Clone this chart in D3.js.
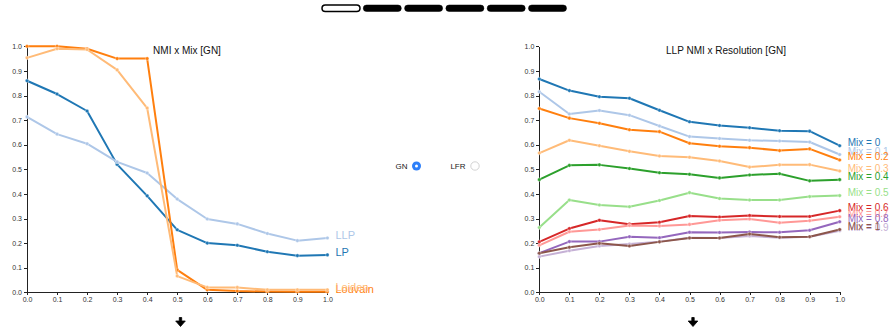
<!DOCTYPE html>
<html>
<head>
<meta charset="utf-8">
<script src="https://cdn.jsdelivr.net/npm/d3@7/dist/d3.min.js"></script>
<style>
  html, body { margin: 0; padding: 0; background: #fff; }
  svg { display: block; font-family: "Liberation Sans", Arial, Helvetica, sans-serif; }
  .axis path, .axis line { stroke: #222; shape-rendering: crispEdges; }
  .axis text { font-size: 7px; fill: #333; }
</style>
</head>
<body>
<svg id="chart" width="889" height="329"></svg>
<script>
// ---- Mixing parameter steps (x of the left chart) ----
const mixSteps = [0, 0.1, 0.2, 0.3, 0.4, 0.5, 0.6, 0.7, 0.8, 0.9, 1.0];

// NMI per algorithm across mixing values (GN benchmark)
const nmiLP      = [0.86, 0.806, 0.737, 0.52, 0.392, 0.254, 0.20, 0.191, 0.165, 0.149, 0.152];
const nmiLLP     = [0.713, 0.643, 0.604, 0.53, 0.485, 0.379, 0.298, 0.278, 0.239, 0.21, 0.221];
const nmiLouvain = [1.0, 1.0, 0.99, 0.95, 0.95, 0.091, 0.01, 0.005, 0.003, 0.002, 0.002];
const nmiLeiden  = [0.953, 0.99, 0.987, 0.904, 0.749, 0.066, 0.02, 0.02, 0.01, 0.01, 0.01];

const algoNames  = ["LP", "LLP", "Louvain", "Leiden"];
const algoColors = ["#1f77b4", "#aec7e8", "#ff7f0e", "#ffbb78"];

// ---- Resolution steps (x of the right chart) ----
const resolutionSteps = [0, 0.1, 0.2, 0.3, 0.4, 0.5, 0.6, 0.7, 0.8, 0.9, 1.0];

// LLP NMI per resolution, one array per mixing value
const llpMix00 = [0.867, 0.82, 0.795, 0.789, 0.74, 0.693, 0.678, 0.669, 0.657, 0.655, 0.596];
const llpMix01 = [0.815, 0.725, 0.739, 0.72, 0.676, 0.633, 0.625, 0.618, 0.615, 0.611, 0.56];
const llpMix02 = [0.747, 0.708, 0.687, 0.661, 0.653, 0.606, 0.594, 0.588, 0.576, 0.583, 0.538];
const llpMix03 = [0.566, 0.618, 0.596, 0.573, 0.554, 0.549, 0.534, 0.509, 0.518, 0.519, 0.493];
const llpMix04 = [0.458, 0.516, 0.518, 0.503, 0.486, 0.48, 0.465, 0.477, 0.482, 0.453, 0.458];
const llpMix05 = [0.263, 0.375, 0.355, 0.348, 0.373, 0.405, 0.381, 0.375, 0.375, 0.389, 0.393];
const llpMix06 = [0.205, 0.259, 0.293, 0.277, 0.285, 0.31, 0.306, 0.312, 0.308, 0.308, 0.332];
const llpMix07 = [0.191, 0.246, 0.255, 0.272, 0.27, 0.276, 0.293, 0.298, 0.283, 0.291, 0.307];
const llpMix08 = [0.159, 0.206, 0.206, 0.226, 0.222, 0.244, 0.243, 0.245, 0.244, 0.252, 0.287];
const llpMix09 = [0.145, 0.169, 0.188, 0.196, 0.206, 0.222, 0.221, 0.229, 0.222, 0.226, 0.25];
const llpMix10 = [0.159, 0.183, 0.199, 0.188, 0.205, 0.221, 0.221, 0.237, 0.224, 0.226, 0.255];

const mixLabels = ["Mix = 0", "Mix = 0.1", "Mix = 0.2", "Mix = 0.3", "Mix = 0.4", "Mix = 0.5",
                   "Mix = 0.6", "Mix = 0.7", "Mix = 0.8", "Mix = 0.9", "Mix = 1"];
const mixColors = ["#1f77b4", "#aec7e8", "#ff7f0e", "#ffbb78", "#2ca02c", "#98df8a",
                   "#d62728", "#ff9896", "#9467bd", "#c5b0d5", "#8c564b"];

const yTicks = [0, 0.1, 0.2, 0.3, 0.4, 0.5, 0.6, 0.7, 0.8, 0.9, 1.0];

const svg = d3.select("#chart");

// ---- Benchmark selector (pills) ----
const pills = [0, 1, 2, 3, 4, 5];
svg.append("g").selectAll("rect").data(pills).join("rect")
  .attr("x", d => 322 + d * 41.3)
  .attr("y", 5)
  .attr("width", 38)
  .attr("height", 6.5)
  .attr("rx", 3.3)
  .attr("fill", d => d === 0 ? "#fff" : "#000")
  .attr("stroke", "#000")
  .attr("stroke-width", d => d === 0 ? 1.5 : 0.5);

// ---- Generic line panel ----
function panel(opts) {
  const x = d3.scaleLinear().domain([0, 1]).range([opts.x0, opts.x0 + 300.4]);
  const y = d3.scaleLinear().domain([0, 1]).range([292.3, 46.3]);
  const g = svg.append("g");

  g.append("g").attr("class", "axis")
    .attr("transform", `translate(0,${y(0)})`)
    .call(d3.axisBottom(x).tickValues(opts.xValues).tickFormat(d3.format(".1f")).tickSize(3).tickSizeOuter(0).tickPadding(2));
  g.append("g").attr("class", "axis")
    .attr("transform", `translate(${x(0)},0)`)
    .call(d3.axisLeft(y).tickValues(yTicks).tickFormat(d3.format(".1f")).tickSize(3).tickSizeOuter(0).tickPadding(2));

  g.append("text")
    .attr("x", opts.titleX).attr("y", 54)
    .attr("text-anchor", "middle")
    .attr("font-size", 10).attr("fill", "#111")
    .text(opts.title);

  const line = d3.line().x((d, i) => x(opts.xValues[i])).y(d => y(d));

  opts.series.forEach((vals, k) => {
    const s = g.append("g");
    s.append("path")
      .attr("d", line(vals))
      .attr("fill", "none")
      .attr("stroke", opts.colors[k])
      .attr("stroke-width", 2)
      .attr("stroke-linejoin", "round");
    s.selectAll("circle").data(vals).join("circle")
      .attr("cx", (d, i) => x(opts.xValues[i]))
      .attr("cy", d => y(d))
      .attr("r", 1.8)
      .attr("fill", opts.colors[k])
      .attr("stroke", "#fff")
      .attr("stroke-opacity", 0.6)
      .attr("stroke-width", 0.6);
    s.append("text")
      .attr("x", x(1) + 8)
      .attr("y", y(vals[vals.length - 1]) - 3)
      .attr("dy", "0.35em")
      .attr("font-size", opts.labelSize)
      .attr("fill", opts.colors[k])
      .text(opts.names[k]);
  });
}

panel({
  x0: 27, titleX: 187, title: "NMI x Mix [GN]",
  xValues: mixSteps,
  series: [nmiLP, nmiLLP, nmiLouvain, nmiLeiden],
  names: algoNames, colors: algoColors, labelSize: 11
});

panel({
  x0: 539.3, titleX: 726, title: "LLP NMI x Resolution [GN]",
  xValues: resolutionSteps,
  series: [llpMix00, llpMix01, llpMix02, llpMix03, llpMix04, llpMix05,
           llpMix06, llpMix07, llpMix08, llpMix09, llpMix10],
  names: mixLabels, colors: mixColors, labelSize: 10
});

// ---- Dataset radio buttons ----
const radios = svg.append("g").attr("font-size", 8).attr("fill", "#222");
radios.append("text").attr("x", 407.5).attr("y", 166).attr("dy", "0.35em").attr("text-anchor", "end").text("GN");
radios.append("circle").attr("cx", 416.5).attr("cy", 166).attr("r", 4.5).attr("fill", "#2d7ff9");
radios.append("circle").attr("cx", 416.5).attr("cy", 166).attr("r", 1.5).attr("fill", "#fff");
radios.append("text").attr("x", 465.5).attr("y", 166).attr("dy", "0.35em").attr("text-anchor", "end").text("LFR");
radios.append("circle").attr("cx", 475).attr("cy", 166).attr("r", 4.2).attr("fill", "#fff").attr("stroke", "#c8c8c8").attr("stroke-width", 0.8);

// ---- Down arrows under each panel ----
function arrow(cx) {
  svg.append("path")
    .attr("d", `M${cx - 1.2},317.5 L${cx + 1.2},317.5 L${cx + 1.2},321 L${cx + 4.8},321 L${cx},326.5 L${cx - 4.8},321 L${cx - 1.2},321 Z`)
    .attr("fill", "#000")
    .attr("stroke", "#000")
    .attr("stroke-width", 0.8)
    .attr("stroke-linejoin", "round");
}
arrow(180.5);
arrow(693);
</script>
</body>
</html>
